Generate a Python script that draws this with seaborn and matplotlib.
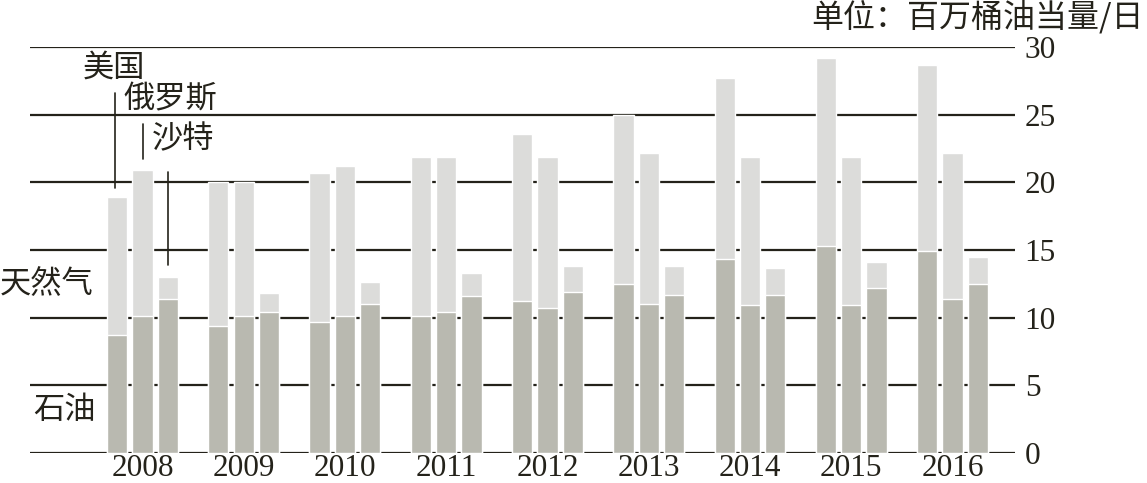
import numpy as np
import pandas as pd
import matplotlib
matplotlib.use("Agg")
import matplotlib.pyplot as plt
import seaborn as sns

years = ["2008", "2009", "2010", "2011", "2012", "2013", "2014", "2015", "2016"]
countries = ["美国", "俄罗斯", "沙特"]

# total production (oil + gas), per year: US, Russia, Saudi
us_total = [18.9, 20.0, 20.7, 21.9, 23.6, 25.0, 27.7, 29.2, 28.7]
ru_total = [20.9, 20.0, 21.2, 21.9, 21.9, 22.2, 21.9, 21.9, 22.2]
sa_total = [13.0, 11.8, 12.6, 13.3, 13.8, 13.8, 13.7, 14.1, 14.5]

# oil part
us_oil = [8.7, 9.4, 9.7, 10.1, 11.2, 12.5, 14.3, 15.3, 14.9]
ru_oil = [10.1, 10.1, 10.1, 10.4, 10.7, 11.0, 10.9, 10.9, 11.4]
sa_oil = [11.4, 10.4, 11.0, 11.6, 11.9, 11.7, 11.7, 12.2, 12.5]

ticks = [0, 5, 10, 15, 20, 25, 30]

OIL = "#b9b9b0"
GAS = "#dcdcda"
INK = "#24221a"
CJK = ["Noto Sans CJK SC", "DejaVu Sans"]
SERIF = "Liberation Serif"


def build_frame():
    rows = []
    for i, y in enumerate(years):
        for j, (tot, oil) in enumerate([(us_total, us_oil), (ru_total, ru_oil), (sa_total, sa_oil)]):
            rows.append({"pos": 4 * i + j, "year": y, "country": countries[j],
                         "total": tot[i], "oil": oil[i]})
    return pd.DataFrame(rows)


def main():
    sns.set_theme(style="white")
    plt.rcParams["font.family"] = CJK

    df = build_frame()

    fig = plt.figure(figsize=(11.47, 4.83), dpi=100)
    ax = fig.add_axes([30 / 1147, 30 / 483, 985 / 1147, 406 / 483])

    sns.barplot(data=df, x="pos", y="total", native_scale=True, color=GAS,
                saturation=1, width=0.8, ax=ax, zorder=3)
    sns.barplot(data=df, x="pos", y="oil", native_scale=True, color=OIL,
                saturation=1, width=0.8, ax=ax, zorder=4)

    ax.set_xlim(-3.44, 35.47)
    ax.set_ylim(0, 30)
    for t in ticks:
        ax.axhline(t, color=INK, lw=1.6, zorder=1)

    for s in ax.spines.values():
        s.set_visible(False)

    ax.set_yticks(ticks)
    ax.yaxis.tick_right()
    ax.set_yticklabels([str(t) for t in ticks], fontfamily=SERIF, fontsize=22.5, color=INK)
    ax.tick_params(axis="y", length=0, pad=7)

    ax.set_xticks([4 * i + 1 for i in range(len(years))])
    ax.set_xticklabels(years, fontfamily=SERIF, fontsize=22.5, color=INK)
    ax.tick_params(axis="x", length=0, pad=0.5)
    ax.set_xlabel("")
    ax.set_ylabel("")

    # country labels with leader lines
    ax.text(-1.34, 28.5, "美国", fontsize=22.5, color=INK, va="center", ha="left", clip_on=False)
    ax.plot([-0.08, -0.08], [19.6, 26.6], color=INK, lw=1.2, zorder=5)
    ax.text(0.24, 26.1, "俄罗斯", fontsize=22.5, color=INK, va="center", ha="left", clip_on=False)
    ax.plot([1.03, 1.03], [21.75, 24.3], color=INK, lw=1.2, zorder=5)
    ax.text(1.38, 23.2, "沙特", fontsize=22.5, color=INK, va="center", ha="left", clip_on=False)
    ax.plot([2.01, 2.01], [13.9, 20.8], color=INK, lw=1.2, zorder=5)

    ax.text(-4.62, 12.45, "天然气", fontsize=22.5, color=INK, va="center", ha="left", clip_on=False)
    ax.text(-3.32, 3.2, "石油", fontsize=22.5, color=INK, va="center", ha="left", clip_on=False)

    fig.text(1144 / 1147, 1 - 17 / 483, "单位：百万桶油当量/日", fontsize=23, color=INK,
             va="center", ha="right")

    fig.savefig("out.png", dpi=100)


if __name__ == "__main__":
    main()
